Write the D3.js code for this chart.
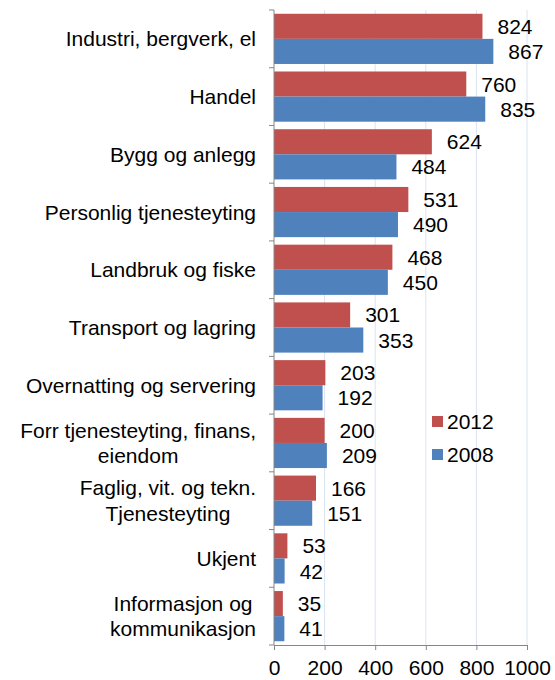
<!DOCTYPE html>
<html><head><meta charset="utf-8">
<script src="https://cdn.jsdelivr.net/npm/d3@7"></script>
<style>
body{margin:0;background:#fff;}
text{font-family:"Liberation Sans",Arial,sans-serif;fill:#000;}
</style></head>
<body>
<svg id="chart" width="555" height="680"></svg>
<script>
const categories = [
  ["Industri, bergverk, el"],
  ["Handel"],
  ["Bygg og anlegg"],
  ["Personlig tjenesteyting"],
  ["Landbruk og fiske"],
  ["Transport og lagring"],
  ["Overnatting og servering"],
  ["Forr tjenesteyting, finans,","eiendom"],
  ["Faglig, vit. og tekn.","Tjenesteyting"],
  ["Ukjent"],
  ["Informasjon og","kommunikasjon"]
];
const series = ["2012","2008"];
const values2012 = [824,760,624,531,468,301,203,200,166,53,35];
const values2008 = [867,835,484,490,450,353,192,209,151,42,41];
const xTicks = [0,200,400,600,800,1000];
const colors = {"2012":"#C0504D","2008":"#4F81BD"};

(function(){
const svg = d3.select("#chart");
const mLeft = 274, mRight = 527, mTop = 10, mBottom = 645;
const fs = 21;

const keys = categories.map(c => c.join(" "));
const x = d3.scaleLinear().domain([0,1000]).range([mLeft,mRight]);
const y = d3.scaleBand().domain(keys).range([mTop,mBottom]).padding(0);
const y1 = d3.scaleBand().domain(series).range([0,y.bandwidth()]).paddingInner(0).paddingOuter(0.15);

svg.append("g").selectAll("line").data(xTicks.filter(t=>t>0)).join("line")
  .attr("x1",d=>x(d)).attr("x2",d=>x(d)).attr("y1",mTop).attr("y2",mBottom)
  .attr("stroke","#D9E4F1").attr("stroke-width",1);

const data = keys.map((k,i)=>({k, vals:{"2012":values2012[i],"2008":values2008[i]}}));

const g = svg.append("g").selectAll("g").data(data).join("g")
  .attr("transform",d=>`translate(0,${y(d.k)})`);
g.selectAll("rect").data(d=>series.map(s=>({s,v:d.vals[s]}))).join("rect")
  .attr("x",x(0)).attr("y",d=>y1(d.s)).attr("width",d=>x(d.v)-x(0)).attr("height",y1.bandwidth())
  .attr("fill",d=>colors[d.s]);
g.selectAll("text.val").data(d=>series.map(s=>({s,v:d.vals[s]}))).join("text")
  .attr("class","val")
  .attr("x",d=>x(d.v)+15).attr("y",d=>y1(d.s)+y1.bandwidth()/2)
  .attr("dy","0.36em").attr("font-size",fs).text(d=>d.v);

const xAxis = svg.append("g").attr("transform",`translate(0,${mBottom})`)
  .call(d3.axisBottom(x).tickValues(xTicks).tickFormat(d3.format("d")).tickSize(5).tickSizeOuter(0));
xAxis.select(".domain").attr("stroke","#868686");
xAxis.selectAll(".tick line").attr("stroke","#868686");
xAxis.selectAll(".tick text").attr("font-size",fs).attr("font-family","Liberation Sans, Arial, sans-serif").attr("fill","#000").attr("dy","0").attr("y",30);

const yAxis = svg.append("g");
yAxis.append("line").attr("x1",mLeft).attr("x2",mLeft).attr("y1",mTop).attr("y2",mBottom).attr("stroke","#868686");
const bounds = keys.map(k=>y(k)).concat([mBottom]);
yAxis.selectAll("line.t").data(bounds).join("line").attr("class","t")
  .attr("x1",mLeft-5).attr("x2",mLeft).attr("y1",d=>d).attr("y2",d=>d).attr("stroke","#868686");

const labelRight = 256, lh = 25.5;
categories.forEach((lines,i)=>{
  const cy = y(keys[i]) + y.bandwidth()/2;
  const t = svg.append("text").attr("font-size",fs).attr("text-anchor","middle");
  const spans = lines.map(ln=>t.append("tspan").text(ln));
  let maxW = 0;
  spans.forEach(s=>{maxW=Math.max(maxW,s.node().getComputedTextLength());});
  const cx = labelRight - maxW/2;
  const y0 = cy - (lines.length-1)*lh/2;
  spans.forEach((s,j)=>s.attr("x",cx).attr("y", y0 + j*lh).attr("dy","0.36em"));
});

const leg = svg.append("g").attr("transform","translate(432,416)");
series.forEach((s,i)=>{
  const r = leg.append("g").attr("transform",`translate(0,${i*33})`);
  r.append("rect").attr("width",11).attr("height",11).attr("fill",colors[s]);
  r.append("text").attr("x",15).attr("y",5.5).attr("dy","0.36em").attr("font-size",fs).text(s);
});
})();
</script>
</body></html>
